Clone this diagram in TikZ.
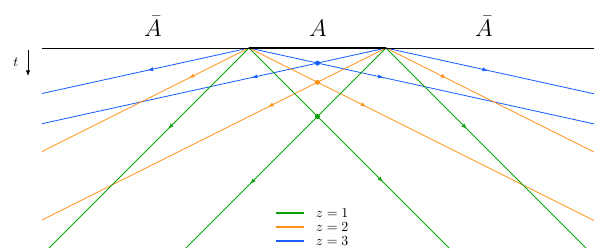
\documentclass[tikz,border=0pt]{standalone}
\usepackage{tikz}
\usetikzlibrary{arrows.meta, decorations.markings, calc}
\usepackage{xcolor}

\definecolor{zgreen}{RGB}{10,160,10}
\definecolor{zorange}{RGB}{255,145,25}
\definecolor{zblue}{RGB}{25,95,255}

\begin{document}
\begin{tikzpicture}[
    x=0.0253cm, y=-0.0253cm,
    ray/.style={line width=0.6pt},
    arr/.style={postaction={decorate}, decoration={markings,
        mark=at position #1 with {\arrow{Latex[length=4pt,width=3pt]}}}},
    dot/.style={circle, fill, inner sep=0pt, minimum size=3.6pt},
    keyline/.style={line width=1.2pt}
]
\useasboundingbox (0,0) rectangle (603,248);

% Boundary and region
\coordinate (west) at (42,48);
\coordinate (east) at (594,48);
\coordinate (L) at (249,48);
\coordinate (R) at (386,48);

\node[anchor=base] (abarl) at (153,36) {\LARGE $\bar A$};
\node[anchor=base] (areg) at (318,36) {\LARGE $A$};
\node[anchor=base] (abarr) at (484,36) {\LARGE $\bar A$};

% Time direction
\node (tlab) at (16,62) {$t$};
\coordinate (tstart) at (28,50);
\coordinate (tend) at (28,76);
\draw[-{Latex[length=4pt,width=3pt]}, line width=0.5pt] (tstart) -- (tend);

% Blue rays (z=3)
\coordinate (bll) at (42,93.5);
\coordinate (blr) at (594,123.9);
\coordinate (brl) at (42,123.7);
\coordinate (brr) at (594,93.8);
\draw[ray, zblue, arr=0.49] (L) -- (bll);
\draw[ray, zblue, arr=0.39] (L) -- (blr);
\draw[ray, zblue, arr=0.39] (R) -- (brl);
\draw[ray, zblue, arr=0.49] (R) -- (brr);

% Orange rays (z=2)
\coordinate (oll) at (42,151.5);
\coordinate (olr) at (594,220.5);
\coordinate (orl) at (42,220);
\coordinate (orr) at (594,152);
\draw[ray, zorange, arr=0.29] (L) -- (oll);
\draw[ray, zorange, arr=0.34] (L) -- (olr);
\draw[ray, zorange, arr=0.343] (R) -- (orl);
\draw[ray, zorange, arr=0.29] (R) -- (orr);

% Green rays (z=1)
\coordinate (gll) at (49,248);
\coordinate (glr) at (449,248);
\coordinate (grl) at (186,248);
\coordinate (grr) at (586,248);
\draw[ray, zgreen, arr=0.405] (L) -- (gll);
\draw[ray, zgreen, arr=0.67] (L) -- (glr);
\draw[ray, zgreen, arr=0.68] (R) -- (grl);
\draw[ray, zgreen, arr=0.405] (R) -- (grr);

% Crossing points
\node[dot, zblue] (xb) at (317.5,63.1) {};
\node[dot, zorange] (xo) at (317.5,82.3) {};
\node[dot, zgreen] (xg) at (317.5,116.5) {};

% Boundary on top
\draw[line width=0.6pt] (west) -- (east);
\draw[line width=2pt] (L) -- (R);

% Legend
\draw[keyline, zgreen] (276,213) -- (304,213);
\node[anchor=west] (k1) at (311,213) {$z=1$};
\draw[keyline, zorange] (276,227) -- (304,227);
\node[anchor=west] (k2) at (311,227) {$z=2$};
\draw[keyline, zblue] (276,241) -- (304,241);
\node[anchor=west] (k3) at (311,241) {$z=3$};

\end{tikzpicture}
\end{document}
